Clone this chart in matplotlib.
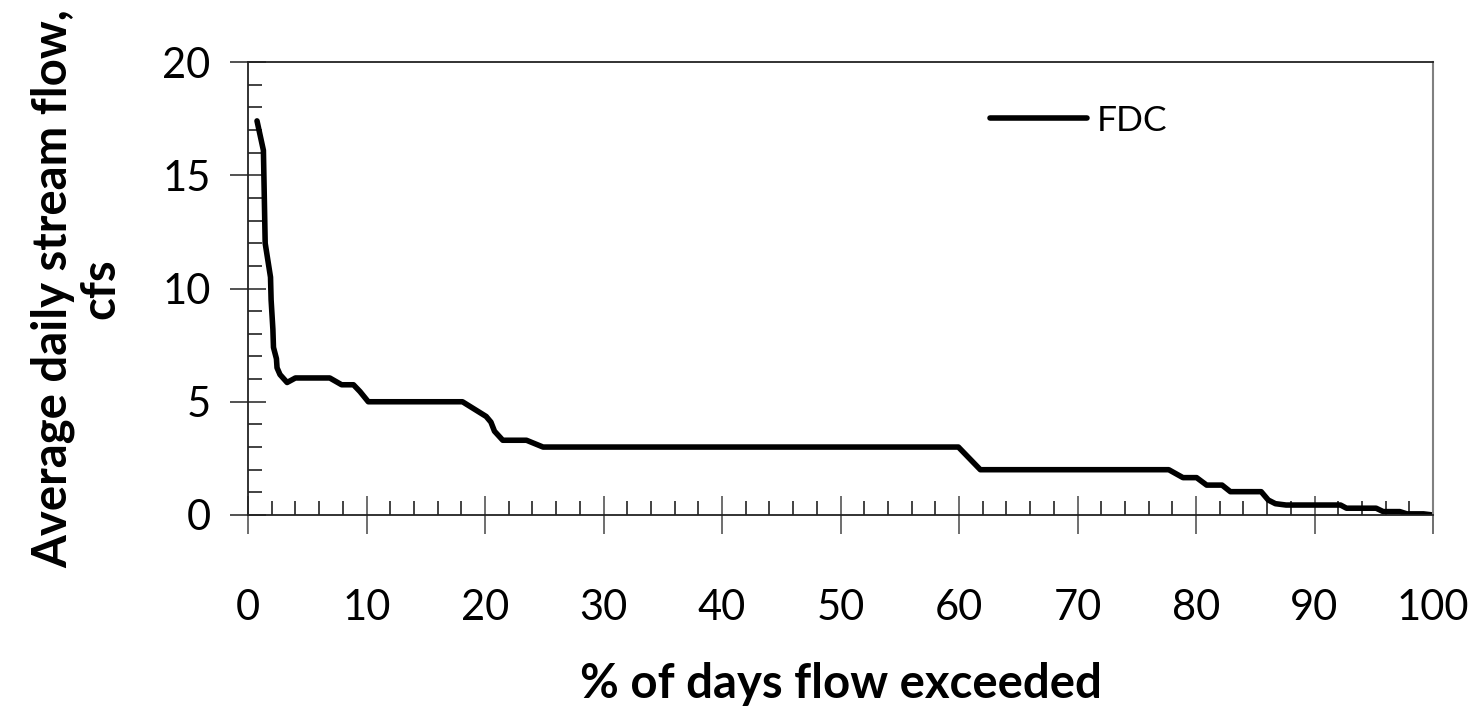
import matplotlib
matplotlib.use('Agg')
import matplotlib.pyplot as plt
from matplotlib.ticker import MultipleLocator

plt.rcParams['font.family'] = ['Lato', 'DejaVu Sans']

# flow duration curve
pct_exceeded = [0.76, 1.3, 1.45, 1.9, 1.95, 2.1, 2.15, 2.4, 2.45, 2.7, 3.3, 4.0,
                6.9, 7.9, 8.9, 9.45, 10.15, 18.1, 20.1, 20.5, 20.8, 21.5, 23.5,
                24.9, 59.95, 61.8, 77.7, 78.9, 80.05, 80.9, 82.2, 82.9, 85.5,
                86.1, 86.7, 87.6, 92.2, 92.7, 95.2, 95.8, 97.2, 97.8, 99.2, 100.0]
flow_cfs = [17.4, 16.1, 12.0, 10.5, 9.5, 8.2, 7.4, 6.9, 6.5, 6.2, 5.85, 6.05,
            6.05, 5.75, 5.75, 5.45, 5.0, 5.0, 4.35, 4.1, 3.7, 3.3, 3.3,
            3.0, 3.0, 2.0, 2.0, 1.65, 1.65, 1.32, 1.32, 1.03, 1.03,
            0.66, 0.5, 0.44, 0.44, 0.3, 0.3, 0.15, 0.15, 0.05, 0.05, 0.0]

fig = plt.figure(figsize=(14.79, 7.2), dpi=100)
ax = fig.add_axes([248/1479, 1-515/720, 1185/1479, 453/720])

ax.plot(pct_exceeded, flow_cfs, c='k', lw=4.0, solid_capstyle='round',
        solid_joinstyle='round', label='FDC')

ax.set_xlim(0, 100)
ax.set_ylim(0, 20)
ax.xaxis.set_major_locator(MultipleLocator(10))
ax.xaxis.set_minor_locator(MultipleLocator(2))
ax.yaxis.set_major_locator(MultipleLocator(5))
ax.yaxis.set_minor_locator(MultipleLocator(1))

ax.tick_params(axis='x', which='major', direction='inout', length=27, width=1.2,
               color='#555555', pad=40, labelsize=30)
ax.tick_params(axis='y', which='major', direction='inout', length=26, width=1.2,
               color='#333333', pad=14, labelsize=30)
ax.tick_params(which='minor', direction='in', length=10, width=1.2, color='#222222')

for side in ['top', 'left', 'bottom']:
    ax.spines[side].set_linewidth(1.3)
    ax.spines[side].set_color('#222222')
ax.spines['right'].set_linewidth(1.5)
ax.spines['right'].set_color('#808080')

ax.set_xlabel('% of days flow exceeded', fontsize=34, fontweight='bold')
ax.xaxis.set_label_coords(0.5, -0.325)
ax.set_ylabel('Average daily stream flow,\ncfs', fontsize=34, fontweight='bold',
              linespacing=1.1)
ax.yaxis.set_label_coords(-0.106, 0.5)

ax.legend(loc='center left', bbox_to_anchor=(0.626, 0.87), frameon=False,
          fontsize=25.5, handlelength=2.74, handletextpad=0.28, borderpad=0,
          borderaxespad=0)

plt.savefig('out.png', dpi=100)
plt.close()
